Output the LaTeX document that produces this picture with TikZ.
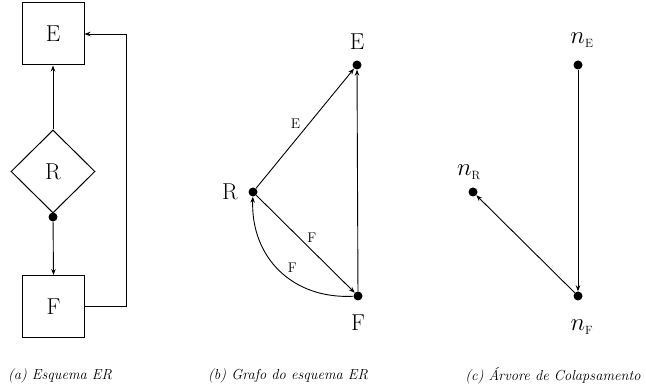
\documentclass[tikz,border=0pt]{standalone}
\usetikzlibrary{arrows.meta,shapes.geometric}
\begin{document}
\begin{tikzpicture}[x=1pt,y=-1pt,
  big/.style={font=\fontsize{23}{25}\selectfont},
  small/.style={font=\fontsize{14}{16}\selectfont},
  captext/.style={font=\fontsize{14.5}{17}\selectfont\itshape},
  ent/.style={draw,line width=1pt,minimum width=62pt,minimum height=62pt,inner sep=0pt,big},
  rel/.style={draw,diamond,line width=1pt,minimum width=84pt,minimum height=83pt,inner sep=0pt,big,aspect=1.01},
  dot/.style={circle,fill=black,inner sep=0pt,minimum size=9pt},
  arr/.style={line width=0.9pt,-{Stealth[length=6pt,width=4.5pt]}},
  ln/.style={line width=0.9pt}]
\useasboundingbox (0,0) rectangle (646,390);
% panel a
\node[ent] (Ea) at (53,34) {E};
\node[rel] (Ra) at (53,171.5) {R};
\node[ent] (Fa) at (53.5,306.5) {F};
\node[dot] (da) at (53,217) {};
\coordinate (c1) at (126,306.5);
\coordinate (c2) at (126,34);
\draw[arr] (Ra.north) -- (Ea.south);
\draw[arr] (da) -- (Fa.north);
\draw[arr] (Fa.east) -- (c1) -- (c2) -- (Ea.east);
% panel b
\node[dot] (Eb) at (357,65) {};
\node[dot] (Rb) at (253,192) {};
\node[dot] (Fb) at (358,296) {};
\node[big] (lEb) at (357,42) {E};
\node[big] (lRb) at (230,192) {R};
\node[big] (lFb) at (358,323) {F};
\draw[arr] (Rb) -- node[small,pos=0.48,above left=-1pt] (eE) {E} (Eb);
\draw[arr] (Rb) -- node[small,pos=0.5,above right=-2pt] (eF) {F} (Fb);
\draw[arr] (Fb) -- (Eb);
\draw[arr] (Fb) to[out=183,in=268,looseness=1.1] node[small,pos=0.45,above right=-1pt] (eF2) {F} (Rb);
% panel c
\node[dot] (Ec) at (578,65) {};
\node[dot] (Rc) at (473,192) {};
\node[dot] (Fc) at (578,296) {};
\node[big] (lEc) at (582,40) {$n_{\scriptscriptstyle\mathrm{E}}$};
\node[big] (lRc) at (469,172) {$n_{\scriptscriptstyle\mathrm{R}}$};
\node[big] (lFc) at (582,327) {$n_{\scriptscriptstyle\mathrm{F}}$};
\draw[arr] (Ec) -- (Fc);
\draw[arr] (Fc) -- (Rc);
% captions
\node[captext] (ca) at (60,376) {(a) Esquema ER};
\node[captext] (cb) at (288,376) {(b) Grafo do esquema ER};
\node[captext] (cc) at (553,376) {(c) \'Arvore de Colapsamento};
\end{tikzpicture}
\end{document}
